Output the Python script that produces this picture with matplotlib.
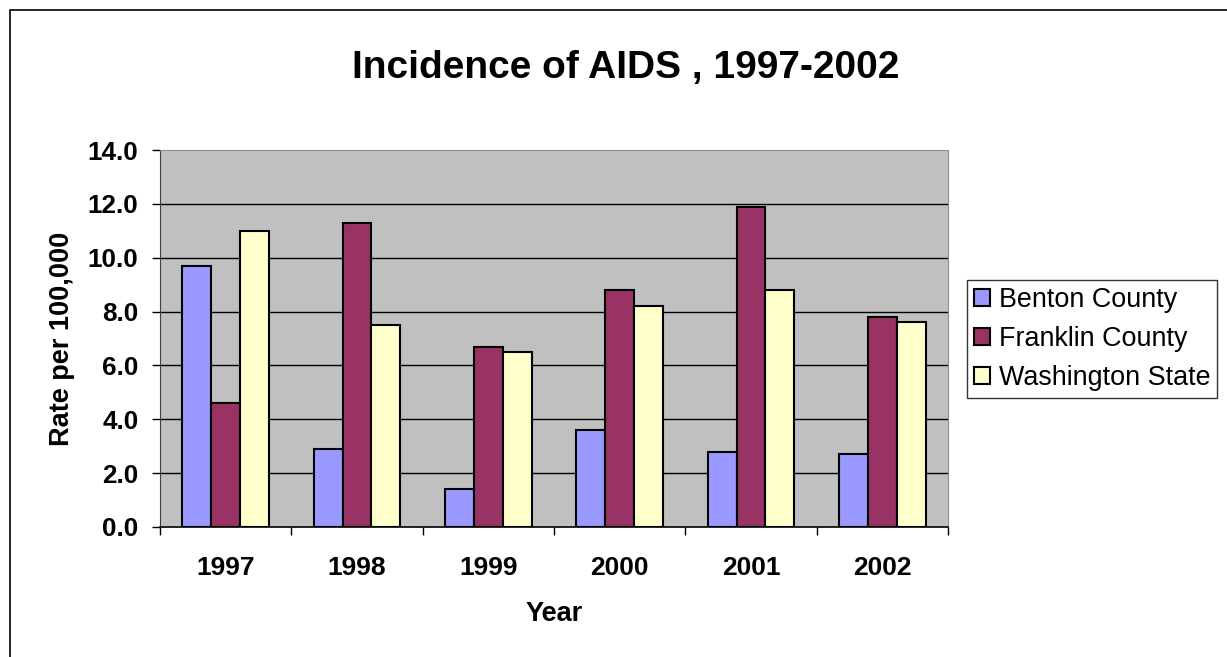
import numpy as np
import matplotlib.pyplot as plt
from matplotlib.patches import Rectangle

plt.rcParams["font.family"] = ["Liberation Sans", "DejaVu Sans"]

years = ["1997", "1998", "1999", "2000", "2001", "2002"]
benton = [9.7, 2.9, 1.4, 3.6, 2.8, 2.7]
franklin = [4.6, 11.3, 6.7, 8.8, 11.9, 7.8]
washington = [11.0, 7.5, 6.5, 8.2, 8.8, 7.6]

series = [
    ("Benton County", benton, "#9999FF"),
    ("Franklin County", franklin, "#993366"),
    ("Washington State", washington, "#FFFFCC"),
]

W, H = 1227, 657
fig = plt.figure(figsize=(W / 100, H / 100), dpi=100)
ax = fig.add_axes([160 / W, 1 - 527 / H, (948 - 160) / W, (527 - 150) / H])

# outer chart frame (runs off the right and bottom edges)
fig.patches.append(Rectangle((10 / W, -0.1), 1.2, 1 - 10 / H + 0.1,
                             transform=fig.transFigure, fill=False,
                             edgecolor="black", linewidth=1.2))

x = np.arange(len(years))
bw = 0.22
for i, (name, vals, col) in enumerate(series):
    ax.bar(x + (i - 1) * bw, vals, width=bw, color=col, edgecolor="black",
           linewidth=1.5, label=name, zorder=3)

ax.set_facecolor("#C0C0C0")
ax.set_xlim(-0.5, len(years) - 0.5)
ax.set_ylim(0, 14)
yt = np.arange(0, 14.1, 2)
ax.set_yticks(yt)
ax.set_yticklabels([f"{v:.1f}" for v in yt], fontsize=18.8, fontweight="bold")
for v in yt[1:-1]:
    ax.axhline(v, color="black", linewidth=1, zorder=1)

ax.set_xticks(x)
ax.set_xticklabels(years, fontsize=19, fontweight="bold")
ax.tick_params(axis="x", length=0, pad=21)
ax.set_xticks(np.arange(-0.5, len(years)), minor=True)
ax.tick_params(axis="x", which="minor", length=6, width=1, color="black")
ax.tick_params(axis="y", length=6, width=1, pad=9.5)

ax.spines["top"].set_color("#909090")
ax.spines["right"].set_color("#909090")
ax.spines["left"].set_color("#404040")
ax.spines["bottom"].set_color("black")
ax.spines["bottom"].set_linewidth(1.2)

ax.set_xlabel("Year", fontsize=19.5, fontweight="bold", labelpad=15)
ax.set_ylabel("Rate per 100,000", fontsize=19.5, fontweight="bold", labelpad=9)

fig.text(626 / W, 1 - 68 / H, "Incidence of AIDS , 1997-2002", fontsize=28,
         fontweight="bold", ha="center", va="center")

leg = ax.legend(loc="center left", bbox_to_anchor=(967 / W, 1 - 339 / H),
                bbox_transform=fig.transFigure, fontsize=19.4, frameon=True,
                fancybox=False, edgecolor="black", handlelength=0.62,
                handleheight=0.62, handletextpad=0.3, borderpad=0.25,
                labelspacing=0.48, borderaxespad=0)
leg.get_frame().set_linewidth(1)

fig.savefig("out.png", dpi=100)
